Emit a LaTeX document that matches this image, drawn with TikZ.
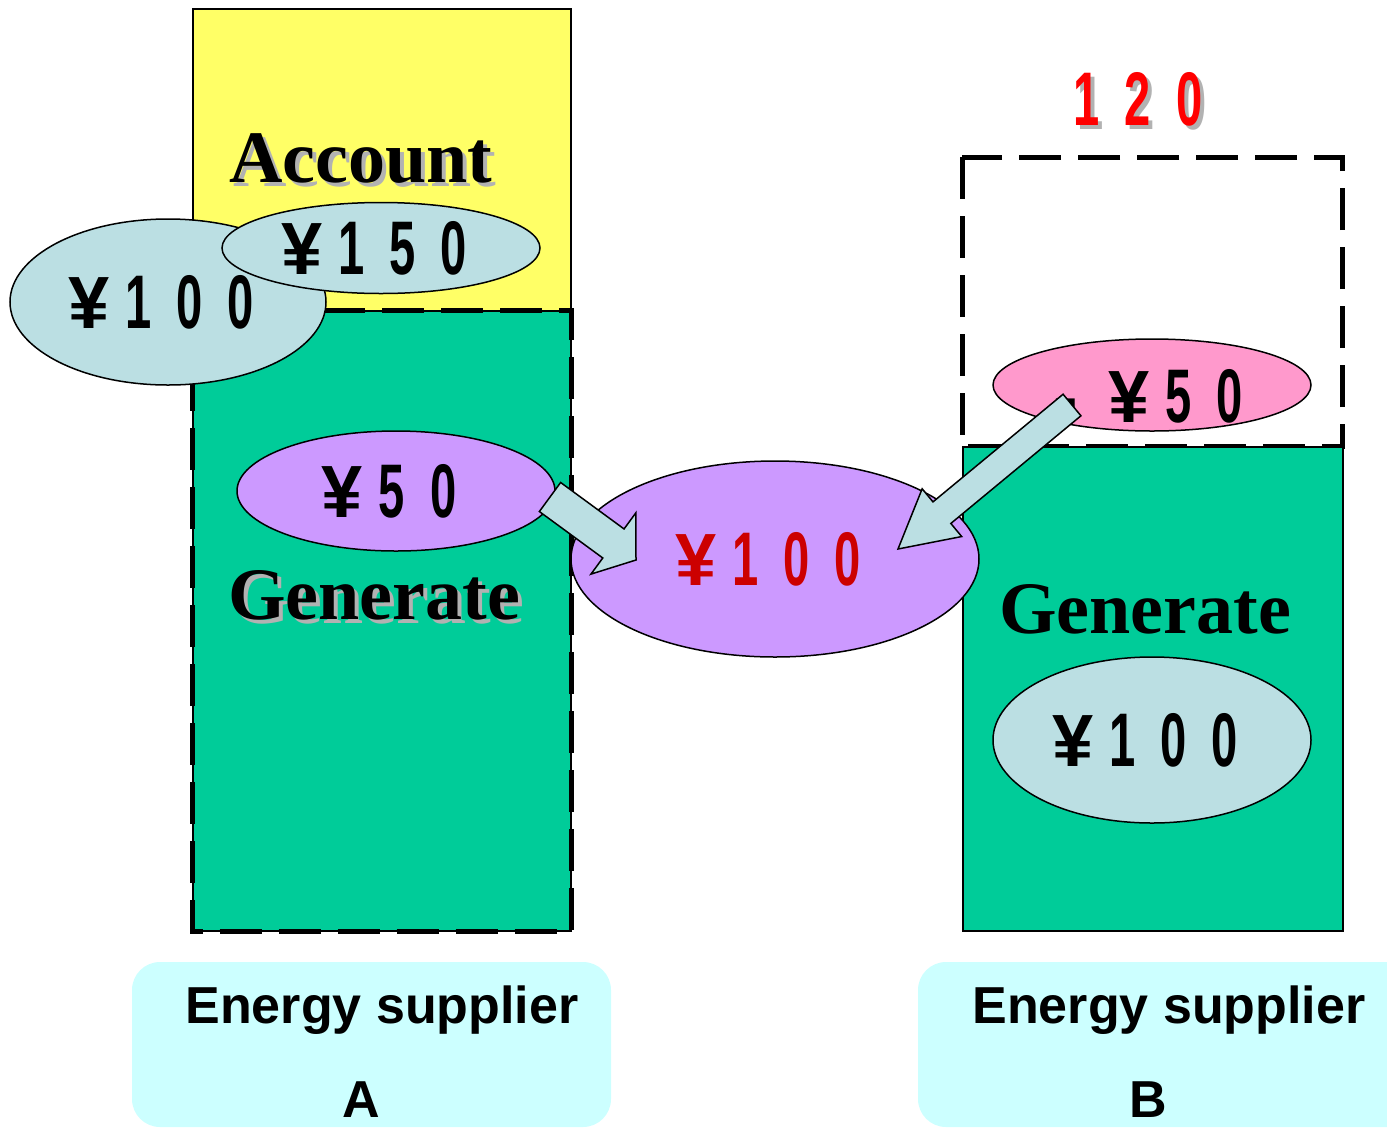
\documentclass[tikz,border=0pt]{standalone}
\usepackage{fontspec}
\setmainfont{Liberation Serif}
\newfontfamily\armfont{Liberation Sans}
\newfontfamily\numfont[FakeStretch=0.62]{Liberation Sans}
\usetikzlibrary{shapes.geometric,calc}
\definecolor{acctyellow}{HTML}{FFFF66}
\definecolor{gengreen}{HTML}{00CC99}
\definecolor{ovalblue}{HTML}{BBDFE3}
\definecolor{ovalpurple}{HTML}{CC99FF}
\definecolor{ovalpink}{HTML}{FF99CC}
\definecolor{labelcyan}{HTML}{CCFFFF}
\definecolor{darkredtext}{HTML}{CC0000}
\definecolor{redtext}{HTML}{FF0000}
\definecolor{shadowgray}{HTML}{B2B2B2}
\newcommand\moneyfont{\fontsize{76}{76}\selectfont\numfont\bfseries}
\newcommand\yen{{\fontsize{74}{74}\selectfont\armfont\bfseries ¥}}
\newcommand\dash{{\fontsize{74}{74}\selectfont\armfont\bfseries -}}
\newcommand\g{\hspace{25pt}}
\newcommand\tailpad{\kern14pt}
\newcommand\blockarrow[5]{%
  \coordinate (ba-base) at ($(#2)!#5!(#1)$);
  \draw[arrowbody] ($(#1)!#3!90:(#2)$) -- ($(ba-base)!#3!90:(#2)$) -- ($(ba-base)!#4!90:(#2)$) -- (#2) -- ($(ba-base)!#4!-90:(#2)$) -- ($(ba-base)!#3!-90:(#2)$) -- ($(#1)!#3!-90:(#2)$) -- cycle;}
\begin{document}
\begin{tikzpicture}[x=1pt,y=-1pt,
  box/.style={draw=black,line width=1.5pt,inner sep=0pt,anchor=north west},
  oval/.style={ellipse,draw=black,line width=1.5pt,inner sep=0pt,font=\moneyfont},
  money/.style={font=\moneyfont,inner sep=0pt,anchor=base},
  heading/.style={font=\fontsize{74}{74}\selectfont\bfseries,inner sep=0pt,anchor=base},
  supplier/.style={font=\fontsize{52}{52}\selectfont\armfont\bfseries,inner sep=0pt,anchor=base},
  dashedge/.style={line width=5pt,dash pattern=on 42pt off 17pt,line cap=butt},
  arrowbody/.style={fill=ovalblue,draw=black,line width=1.5pt,line join=miter},
  labelbox/.style={fill=labelcyan,rounded corners=28pt}
]
\useasboundingbox (0,0) rectangle (1387,1128);
\clip (0,0) rectangle (1387,1128);

% supplier label boxes
\path[labelbox] (132,962) rectangle (611,1127);
\path[labelbox] (918,962) rectangle (1430,1127);
\node[supplier] (esA) at (382,1023) {Energy supplier};
\node[supplier] (lblA) at (361,1117) {A};
\node[supplier] (esB) at (1169,1023) {Energy supplier};
\node[supplier] (lblB) at (1148,1117) {B};

% supplier A columns
\node[box,fill=acctyellow,minimum width=378pt,minimum height=302pt] (acct) at (192,8) {};
\node[box,fill=gengreen,minimum width=378pt,minimum height=620pt] (genA) at (192,310) {};
\draw[dashedge] (genA.north west) rectangle (genA.south east);

% supplier B columns
\draw[dashedge] (962,157) rectangle (1342,446);
\node[box,fill=gengreen,line width=2pt,minimum width=380pt,minimum height=484pt] (genB) at (962,446) {};

% headings
\node[heading,text=shadowgray] at (365,186) {Account};
\node[heading] (acctlbl) at (361,182) {Account};
\node[heading,text=shadowgray] at (378,623) {Generate};
\node[heading] (genAlbl) at (374,619) {Generate};
\node[heading] (genBlbl) at (1145,633) {Generate};

% money ovals
\node[oval,fill=ovalblue,minimum width=316pt,minimum height=166pt] (m100a) at (168,302) {\yen\hspace{16pt}1\g0\g0\tailpad};
\node[oval,fill=ovalblue,minimum width=318pt,minimum height=91pt] (m150) at (381,248) {\yen\hspace{16pt}1\g5\g0\tailpad};
\node[oval,fill=ovalpurple,minimum width=318pt,minimum height=120pt] (m50) at (396,491) {\yen\hspace{16pt}5\g0\tailpad};
\node[oval,fill=ovalpurple,text=darkredtext,minimum width=408pt,minimum height=196pt] (m100c) at (775,559) {\yen\hspace{16pt}1\g0\g0\tailpad};
\node[oval,fill=ovalpink,minimum width=318pt,minimum height=92pt] (m50neg) at (1152,385) {};
\node[money] (m50negtxt) at (1148,422) {\dash\hspace{30pt}\yen\hspace{16pt}5\g0};
\node[oval,fill=ovalblue,minimum width=318pt,minimum height=166pt] (m100b) at (1152,740) {\yen\hspace{16pt}1\g0\g0\tailpad};

% block arrows
\coordinate (a1tail) at (550,497);
\coordinate (a1tip) at (636,560);
\coordinate (a2tail) at (1072,405);
\coordinate (a2tip) at (898,549);
\blockarrow{a1tail}{a1tip}{18pt}{38pt}{28pt}
\blockarrow{a2tail}{a2tip}{14pt}{31pt}{57pt}

% 120 above B
\node[money,text=shadowgray] at (1142,129) {1\g2\g0};
\node[money,text=redtext] (limit) at (1138,125) {1\g2\g0};
\end{tikzpicture}
\end{document}
